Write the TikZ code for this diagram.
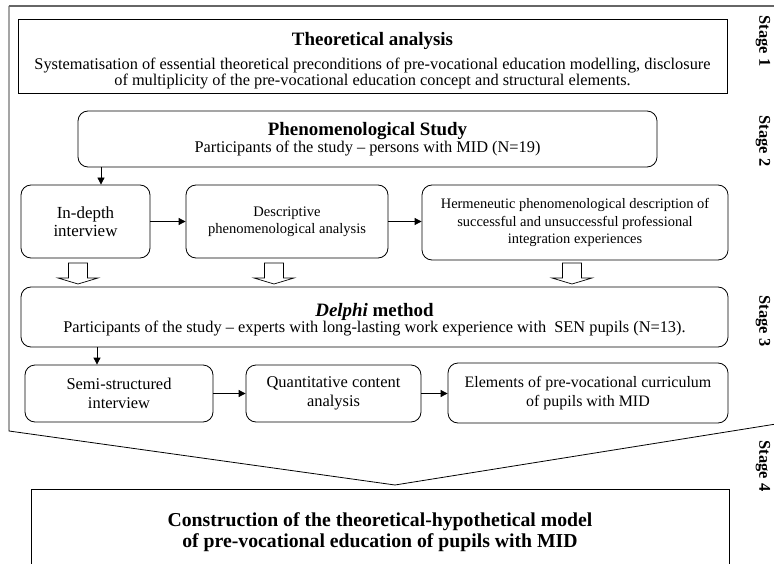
\documentclass[tikz,border=0pt]{standalone}
\usepackage{fontspec}
\setmainfont{Liberation Serif}
\usetikzlibrary{arrows.meta,calc}
\begin{document}
\begin{tikzpicture}[x=1bp,y=-1bp,
  box/.style={draw,line width=0.8pt,align=center,inner sep=2pt},
  rbox/.style={box,rounded corners=10bp},
  lbl/.style={align=center,inner sep=0pt},
  arr/.style={line width=0.8pt,-{Triangle[length=7bp,width=7bp]}},
  stagelbl/.style={rotate=-90,font=\fontsize{16.5}{19}\selectfont\bfseries},
  hol/.style={draw,line width=0.7pt,fill=white}]
\useasboundingbox (0,0) rectangle (774,564);
% outer funnel
\draw[line width=0.8pt] (9,6) -- (9,431) -- (395,485) -- (776,424);
\draw[line width=1.6pt,gray!80!black] (9,6) -- (776,6);
% stage labels
\node[stagelbl] (s1) at (763,41) {Stage 1};
\node[stagelbl] (s2) at (763,141) {Stage 2};
\node[stagelbl] (s3) at (763,321) {Stage 3};
\node[stagelbl] (s4) at (763,466) {Stage 4};
% boxes
\node[box,minimum width=709bp,minimum height=74bp] (theo) at (372.5,56) {};
\node[lbl] (theotxt) at (372.5,61)
  {{\fontsize{19}{22}\selectfont\bfseries Theoretical analysis}\\[7bp]
   \fontsize{16.4}{18}\selectfont Systematisation of essential theoretical preconditions of pre-vocational education modelling, disclosure\\
   \fontsize{16.4}{18}\selectfont of multiplicity of the pre-vocational education concept and structural elements.};
\node[rbox,minimum width=579bp,minimum height=56bp] (phen) at (367.5,139)
  {{\fontsize{19}{20}\selectfont\bfseries Phenomenological Study}\\
   \fontsize{16.4}{18}\selectfont Participants of the study -- persons with MID (N=19)};
\node[rbox,minimum width=129bp,minimum height=73bp,font=\fontsize{17}{18.5}\selectfont] (indepth) at (85.5,221.5)
  {In-depth\\interview};
\node[rbox,minimum width=202bp,minimum height=73bp,font=\fontsize{14.6}{17}\selectfont] (desc) at (287,221.5)
  {Descriptive\\phenomenological analysis};
\node[rbox,minimum width=306bp,minimum height=75bp,font=\fontsize{14.5}{18}\selectfont] (herm) at (575,222.5)
  {Hermeneutic phenomenological description of\\successful and unsuccessful professional\\integration experiences};
\node[rbox,minimum width=707bp,minimum height=60bp] (delphi) at (374.5,317) {};
\node[lbl] (delphitxt) at (374.5,319.5)
  {{\fontsize{19}{21}\selectfont\bfseries\itshape Delphi\upshape{} method}\\
   \fontsize{16.4}{18}\selectfont Participants of the study -- experts with long-lasting work experience with\ \ SEN pupils (N=13).};
\node[rbox,minimum width=188bp,minimum height=57bp,font=\fontsize{16.5}{19}\selectfont] (semi) at (119,393.5)
  {Semi-structured\\interview};
\node[rbox,minimum width=175bp,minimum height=57bp,font=\fontsize{16.5}{19}\selectfont] (quant) at (333.5,393.5)
  {Quantitative content\\analysis};
\node[rbox,minimum width=280bp,minimum height=60bp,font=\fontsize{16}{19}\selectfont] (elem) at (588,393)
  {Elements of pre-vocational curriculum\\of pupils with MID};
% bottom box (cut off at page bottom)
\begin{scope}
\clip (0,0) rectangle (774,564);
\draw[line width=0.8pt] (31,600) -- (31,489) -- (729,489) -- (729,600);
\end{scope}
\node[font=\fontsize{19.8}{21}\selectfont\bfseries,align=center] (model) at (380,532)
  {Construction of the theoretical-hypothetical model\\of pre-vocational education of pupils with MID};
% arrows
\draw[arr] (101,0 |- phen.south) -- (101,0 |- indepth.north);
\draw[arr] (indepth.east) -- (indepth.east -| desc.west);
\draw[arr] (desc.east) -- (desc.east -| herm.west);
\draw[arr] (97,0 |- delphi.south) -- (97,0 |- semi.north);
\draw[arr] (semi.east) -- (semi.east -| quant.west);
\draw[arr] (quant.east) -- (quant.east -| elem.west);
% hollow arrows
\foreach \xx in {78,274,572}{
  \draw[hol] (\xx-9.5,263) -- (\xx+9.5,263) -- (\xx+9.5,278) -- (\xx+20,278)
    -- (\xx,284) -- (\xx-20,278) -- (\xx-9.5,278) -- cycle;
}
\end{tikzpicture}
\end{document}
